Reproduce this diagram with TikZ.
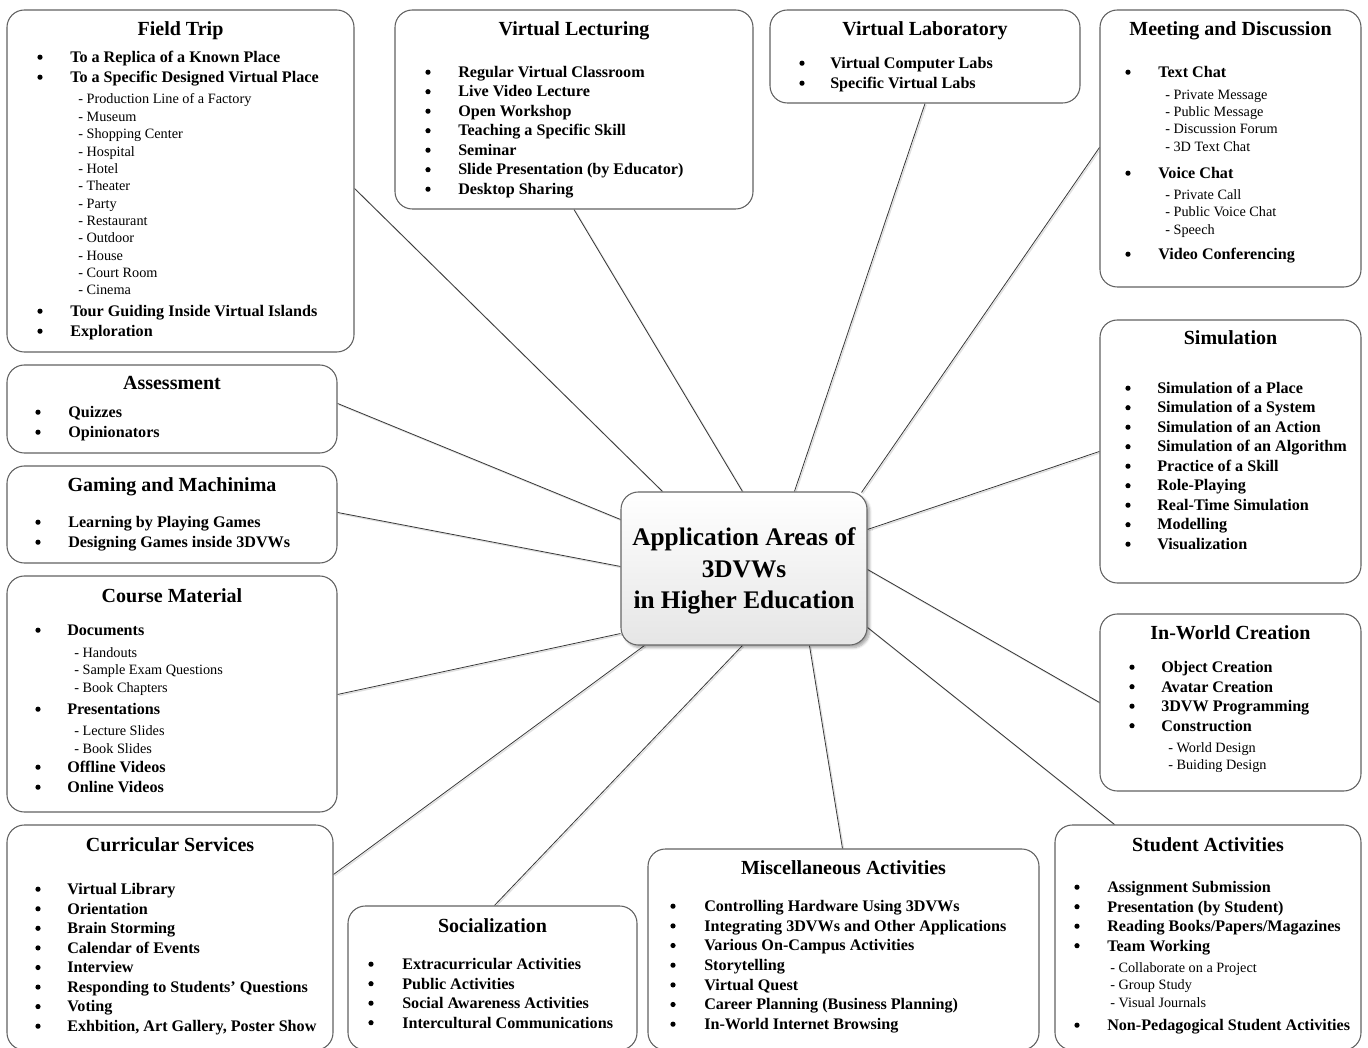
\documentclass[tikz,border=0pt]{standalone}
\usepackage{fontspec}
\setmainfont{Liberation Serif}
\usetikzlibrary{fit,calc,shadows.blur,backgrounds}

\tikzset{
  box/.style={draw=black!62, line width=0.8pt, rounded corners=13pt, fill=white, inner sep=0pt},
  hubbox/.style={draw=black!60, line width=0.8pt, rounded corners=13pt, inner sep=0pt,
    top color=white, bottom color=black!10,
    blur shadow={shadow xshift=2pt, shadow yshift=-2pt, shadow blur steps=6, shadow opacity=35}},
  hubtxt/.style={anchor=base, inner sep=0pt, font=\bfseries\fontsize{19}{23}\selectfont},
  ttl/.style={anchor=base, inner sep=0pt, font=\bfseries\fontsize{15}{18}\selectfont},
  itm/.style={anchor=base west, inner sep=0pt, font=\bfseries\fontsize{12.1}{14}\selectfont},
  dot/.style={circle, fill=black, draw=none, inner sep=0pt, minimum size=3.9pt},
  sbi/.style={anchor=base west, inner sep=0pt, font=\fontsize{10.7}{13}\selectfont},
  link/.style={draw=black!78, line width=0.6pt,
    preaction={draw=black!12, line width=1pt, transform canvas={xshift=0.9pt, yshift=-0.9pt}}}
}

% bullet line: name, bullet x, text x, baseline y, text
\newcommand\bul[5]{\node[dot] (#1d) at ({#2},{#4-5.3}) {}; \node[itm] (#1) at (#3,#4) {#5};}
% dashed sub-line: name, x, baseline y, text
\newcommand\sbl[4]{\node[sbi] (#1) at (#2,#3) {- #4};}

\begin{document}
\begin{tikzpicture}[x=0.75pt, y=-0.75pt]
\useasboundingbox (0,0) rectangle (1368,1048);
\clip (0,0) rectangle (1368,1048);

% ---------- central node ----------
\node[hubbox, fit={(621,492)(867,645)}] (hub) {};
\node[hubtxt] (hub1) at (744,546) {Application Areas of};
\node[hubtxt] (hub2) at (744,577) {3DVWs};
\node[hubtxt] (hub3) at (744,608) {in Higher Education};

% ---------- Field Trip ----------
\node[box, fit={(7,10)(354,352)}] (field) {};
\node[ttl] (fieldt) at (180.5,36) {Field Trip};
\bul{ft1}{40}{70}{62.5}{To a Replica of a Known Place}
\bul{ft2}{40}{70}{82.5}{To a Specific Designed Virtual Place}
\sbl{fs1}{78}{104}{Production Line of a Factory}
\sbl{fs2}{78}{121.35}{Museum}
\sbl{fs3}{78}{138.7}{Shopping Center}
\sbl{fs4}{78}{156.05}{Hospital}
\sbl{fs5}{78}{173.4}{Hotel}
\sbl{fs6}{78}{190.75}{Theater}
\sbl{fs7}{78}{208.1}{Party}
\sbl{fs8}{78}{225.45}{Restaurant}
\sbl{fs9}{78}{242.8}{Outdoor}
\sbl{fs10}{78}{260.15}{House}
\sbl{fs11}{78}{277.5}{Court Room}
\sbl{fs12}{78}{294.85}{Cinema}
\bul{ft3}{40}{70}{316.5}{Tour Guiding Inside Virtual Islands}
\bul{ft4}{40}{70}{336.5}{Exploration}

% ---------- Virtual Lecturing ----------
\node[box, fit={(395,10)(753,209)}] (vlec) {};
\node[ttl] (vlect) at (574,36) {Virtual Lecturing};
\bul{vl1}{428}{458}{77.5}{Regular Virtual Classroom}
\bul{vl2}{428}{458}{97}{Live Video Lecture}
\bul{vl3}{428}{458}{116.5}{Open Workshop}
\bul{vl4}{428}{458}{136}{Teaching a Specific Skill}
\bul{vl5}{428}{458}{155.5}{Seminar}
\bul{vl6}{428}{458}{175}{Slide Presentation (by Educator)}
\bul{vl7}{428}{458}{194.5}{Desktop Sharing}

% ---------- Virtual Laboratory ----------
\node[box, fit={(770,10)(1080,103)}] (vlab) {};
\node[ttl] (vlabt) at (925,36) {Virtual Laboratory};
\bul{lb1}{802}{830}{68.5}{Virtual Computer Labs}
\bul{lb2}{802}{830}{88.5}{Specific Virtual Labs}

% ---------- Meeting and Discussion ----------
\node[box, fit={(1100,10)(1361,287)}] (meet) {};
\node[ttl] (meett) at (1230.5,36) {Meeting and Discussion};
\bul{md1}{1128}{1158}{77.5}{Text Chat}
\sbl{ms1}{1165}{100}{Private Message}
\sbl{ms2}{1165}{117}{Public Message}
\sbl{ms3}{1165}{134}{Discussion Forum}
\sbl{ms4}{1165}{152}{3D Text Chat}
\bul{md2}{1128}{1158}{178.5}{Voice Chat}
\sbl{ms5}{1165}{200}{Private Call}
\sbl{ms6}{1165}{217}{Public Voice Chat}
\sbl{ms7}{1165}{235}{Speech}
\bul{md3}{1128}{1158}{259.5}{Video Conferencing}

% ---------- Simulation ----------
\node[box, fit={(1100,320)(1361,583)}] (sim) {};
\node[ttl] (simt) at (1230.5,345) {Simulation};
\bul{sm1}{1128}{1157}{393.5}{Simulation of a Place}
\bul{sm2}{1128}{1157}{413}{Simulation of a System}
\bul{sm3}{1128}{1157}{432.5}{Simulation of an Action}
\bul{sm4}{1128}{1157}{452}{Simulation of an Algorithm}
\bul{sm5}{1128}{1157}{471.5}{Practice of a Skill}
\bul{sm6}{1128}{1157}{491}{Role-Playing}
\bul{sm7}{1128}{1157}{510.5}{Real-Time Simulation}
\bul{sm8}{1128}{1157}{530}{Modelling}
\bul{sm9}{1128}{1157}{549.5}{Visualization}

% ---------- In-World Creation ----------
\node[box, fit={(1100,614)(1361,791)}] (inw) {};
\node[ttl] (inwt) at (1230.5,639) {In-World Creation};
\bul{iw1}{1132}{1161}{672.5}{Object Creation}
\bul{iw2}{1132}{1161}{692}{Avatar Creation}
\bul{iw3}{1132}{1161}{711.5}{3DVW Programming}
\bul{iw4}{1132}{1161}{731}{Construction}
\sbl{is1}{1168}{752}{World Design}
\sbl{is2}{1168}{769}{Buiding Design}

% ---------- Student Activities ----------
\node[box, fit={(1055,825)(1361,1050)}] (stud) {};
\node[ttl] (studt) at (1208,851) {Student Activities};
\bul{sa1}{1077}{1107}{892.5}{Assignment Submission}
\bul{sa2}{1077}{1107}{912}{Presentation (by Student)}
\bul{sa3}{1077}{1107}{931.5}{Reading Books/Papers/Magazines}
\bul{sa4}{1077}{1107}{951}{Team Working}
\sbl{ss1}{1110}{972}{Collaborate on a Project}
\sbl{ss2}{1110}{989}{Group Study}
\sbl{ss3}{1110}{1007}{Visual Journals}
\bul{sa5}{1077}{1107}{1030.5}{Non-Pedagogical Student Activities}

% ---------- Miscellaneous Activities ----------
\node[box, fit={(648,849)(1039,1050)}] (misc) {};
\node[ttl] (misct) at (843.5,874) {Miscellaneous Activities};
\bul{mi1}{673}{704}{911.5}{Controlling Hardware Using 3DVWs}
\bul{mi2}{673}{704}{931.2}{Integrating 3DVWs and Other Applications}
\bul{mi3}{673}{704}{950.8}{Various On-Campus Activities}
\bul{mi4}{673}{704}{970.5}{Storytelling}
\bul{mi5}{673}{704}{990.2}{Virtual Quest}
\bul{mi6}{673}{704}{1009.8}{Career Planning (Business Planning)}
\bul{mi7}{673}{704}{1029.5}{In-World Internet Browsing}

% ---------- Socialization ----------
\node[box, fit={(348,906)(637,1050)}] (soc) {};
\node[ttl] (soct) at (492.5,932) {Socialization};
\bul{so1}{371}{402}{969.5}{Extracurricular Activities}
\bul{so2}{371}{402}{989}{Public Activities}
\bul{so3}{371}{402}{1008.5}{Social Awareness Activities}
\bul{so4}{371}{402}{1028}{Intercultural Communications}

% ---------- Curricular Services ----------
\node[box, fit={(7,825)(333,1050)}] (curr) {};
\node[ttl] (currt) at (170,851) {Curricular Services};
\bul{cs1}{38}{67}{894.5}{Virtual Library}
\bul{cs2}{38}{67}{914.1}{Orientation}
\bul{cs3}{38}{67}{933.6}{Brain Storming}
\bul{cs4}{38}{67}{953.2}{Calendar of Events}
\bul{cs5}{38}{67}{972.8}{Interview}
\bul{cs6}{38}{67}{992.4}{Responding to Students’ Questions}
\bul{cs7}{38}{67}{1011.9}{Voting}
\bul{cs8}{38}{67}{1031.5}{Exhbition, Art Gallery, Poster Show}

% ---------- Course Material ----------
\node[box, fit={(7,576)(337,812)}] (course) {};
\node[ttl] (courset) at (172,602) {Course Material};
\bul{cm1}{38}{67}{635.5}{Documents}
\sbl{cx1}{74}{657}{Handouts}
\sbl{cx2}{74}{674}{Sample Exam Questions}
\sbl{cx3}{74}{692}{Book Chapters}
\bul{cm2}{38}{67}{714.5}{Presentations}
\sbl{cx4}{74}{735}{Lecture Slides}
\sbl{cx5}{74}{753}{Book Slides}
\bul{cm3}{38}{67}{772.5}{Offline Videos}
\bul{cm4}{38}{67}{792.5}{Online Videos}

% ---------- Gaming and Machinima ----------
\node[box, fit={(7,466)(337,563)}] (game) {};
\node[ttl] (gamet) at (172,492) {Gaming and Machinima};
\bul{gm1}{38}{68}{527.5}{Learning by Playing Games}
\bul{gm2}{38}{68}{547.5}{Designing Games inside 3DVWs}

% ---------- Assessment ----------
\node[box, fit={(7,365)(337,453)}] (assess) {};
\node[ttl] (assesst) at (172,390) {Assessment};
\bul{as1}{38}{68}{417.5}{Quizzes}
\bul{as2}{38}{68}{437.5}{Opinionators}

% ---------- connectors ----------
\begin{scope}[on background layer]
  \draw[link] ($(field.north east)+(0,179)$) -- ($(hub.north west)+(42,0)$);
  \draw[link] (vlec.south) -- ($(hub.north west)+(122,0)$);
  \draw[link] (vlab.south) -- ($(hub.north west)+(174,0)$);
  \draw[link] ($(meet.north west)+(0,138)$) -- ($(hub.north east)+(-6,1)$);
  \draw[link] ($(sim.north west)+(0,132)$) -- ($(hub.north east)+(0,38)$);
  \draw[link] ($(inw.north west)+(0,89)$) -- ($(hub.north east)+(0,78)$);
  \draw[link] ($(stud.north west)+(60,0)$) -- ($(hub.north east)+(0,136)$);
  \draw[link] ($(misc.north west)+(195,0)$) -- ($(hub.south west)+(189,0)$);
  \draw[link] ($(soc.north west)+(147,0)$) -- ($(hub.south west)+(122,0)$);
  \draw[link] ($(curr.north east)+(0,50)$) -- ($(hub.south west)+(24,0)$);
  \draw[link] ($(course.north east)+(0,119)$) -- ($(hub.south west)+(0,-12)$);
  \draw[link] ($(game.north east)+(0,47)$) -- ($(hub.north west)+(0,75)$);
  \draw[link] ($(assess.north east)+(0,39)$) -- ($(hub.north west)+(0,28)$);
\end{scope}
\end{tikzpicture}
\end{document}
